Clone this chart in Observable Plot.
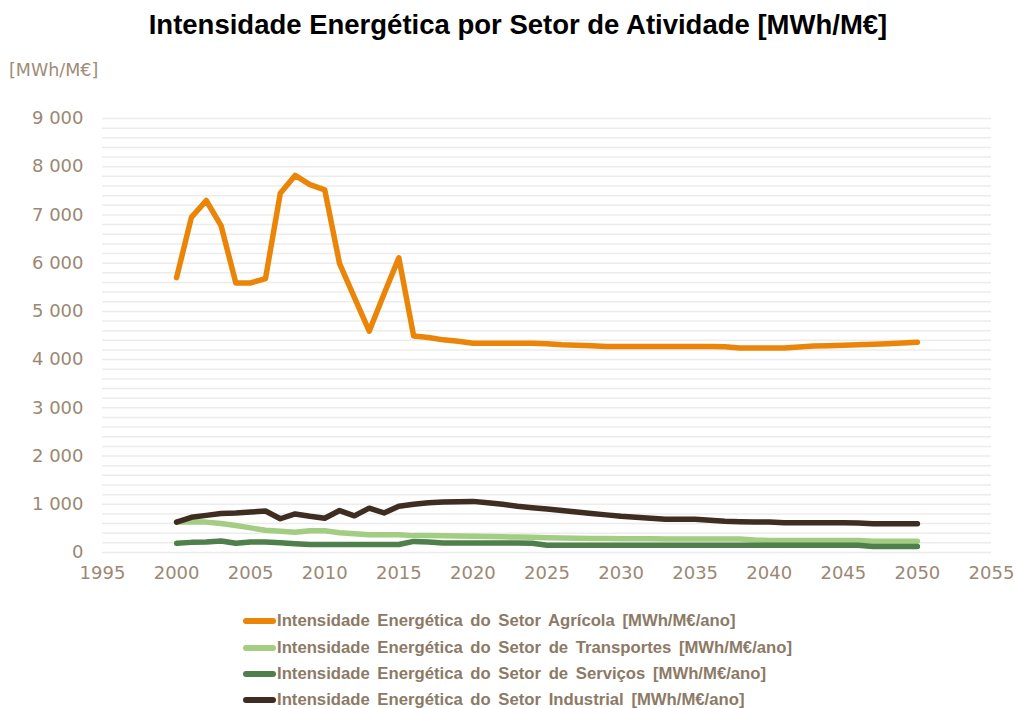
<!DOCTYPE html>
<html><head><meta charset="utf-8">
<script src="https://cdn.jsdelivr.net/npm/d3@7"></script>
<script src="https://cdn.jsdelivr.net/npm/@observablehq/plot@0.6"></script>
<style>
body{margin:0;background:#fff;width:1016px;height:708px;position:relative;overflow:hidden}
#title{position:absolute;left:0;width:1036px;top:10px;text-align:center;font:bold 27.5px "Liberation Sans",Arial,sans-serif;color:#000;line-height:30px}
#unit{position:absolute;left:9px;top:59px;font:17.5px "DejaVu Sans";color:#a08c78;line-height:22px}
#chart{position:absolute;left:0;top:50px}
#legend{position:absolute;left:243px;top:608px}
.row{height:26.4px;display:flex;align-items:center;font:bold 16.7px "Liberation Sans",Arial,sans-serif;color:#8c7a66;word-spacing:3px;white-space:nowrap}
.sw{width:33px;height:6px;border-radius:3px;margin-right:1px}
</style></head>
<body>
<div id="title">Intensidade Energética por Setor de Atividade [MWh/M€]</div>
<div id="unit">[MWh/M€]</div>
<div id="chart"></div>
<div id="legend"></div>
<script>
const years = d3.range(2000, 2051);
const seriesNames = [
  "Intensidade Energética do Setor Agrícola [MWh/M€/ano]",
  "Intensidade Energética do Setor de Transportes [MWh/M€/ano]",
  "Intensidade Energética do Setor de Serviços [MWh/M€/ano]",
  "Intensidade Energética do Setor Industrial [MWh/M€/ano]"
];
const seriesColors = ["#eb8508", "#a2cd83", "#4f7f4a", "#3f2d22"];
const agricola = [5700,6950,7300,6780,5590,5590,5680,7450,7820,7630,7520,5990,5290,4590,5360,6110,4490,4460,4410,4380,4340,4340,4340,4340,4340,4330,4310,4300,4285,4270,4270,4270,4270,4270,4270,4270,4270,4265,4240,4240,4240,4240,4260,4280,4290,4300,4310,4320,4330,4345,4360];
const transportes = [630,630,630,600,560,510,460,440,420,450,450,410,390,370,370,370,350,350,345,340,335,330,325,320,315,305,300,295,290,290,285,285,285,280,280,280,280,280,280,260,250,250,250,250,250,250,250,235,235,235,235];
const servicos = [190,210,220,240,190,220,220,200,180,165,165,165,165,165,165,165,230,220,195,195,195,195,195,195,190,150,150,150,150,150,150,150,150,150,150,150,150,150,150,150,150,150,150,150,150,150,150,125,125,125,125];
const industrial = [630,730,770,810,820,840,860,700,800,750,710,870,760,920,820,960,1000,1030,1045,1050,1060,1030,1000,960,930,900,870,840,810,780,750,730,710,690,690,690,670,650,640,630,630,615,615,615,615,615,610,595,595,595,595];
const yTicks = [0,1000,2000,3000,4000,5000,6000,7000,8000,9000];
const xTicks = [1995,2000,2005,2010,2015,2020,2025,2030,2035,2040,2045,2050,2055];
const gridStep = 200;

const allSeries = [agricola, transportes, servicos, industrial];
const fmt = d3.formatLocale({thousands:" ", grouping:[3], decimal:","}).format(",");
const gridVals = d3.range(0, 9000 + 1, gridStep);

const lineMarks = allSeries.map((vals, k) =>
  Plot.line(years.map((y, i) => ({year: y, value: vals[i]})), {
    x: "year", y: "value", stroke: seriesColors[k], strokeWidth: 5.5,
    strokeLinecap: "round", strokeLinejoin: "round"
  })
);

const chart = Plot.plot({
  width: 1016, height: 542,
  marginLeft: 102, marginRight: 25, marginTop: 68, marginBottom: 40,
  style: {fontFamily: "DejaVu Sans", fontSize: "18px", color: "#9c8874", background: "transparent"},
  x: {domain: [1995, 2055], ticks: xTicks, tickFormat: d => String(d), tickSize: 0, tickPadding: 14, label: null},
  y: {domain: [0, 9000], ticks: yTicks, tickFormat: fmt, tickSize: 0, tickPadding: 19, label: null},
  marks: [
    Plot.ruleY(gridVals, {stroke: "#ececec", strokeWidth: 1.5}),
    ...lineMarks
  ]
});
document.getElementById("chart").appendChild(chart);

const legend = document.getElementById("legend");
seriesNames.forEach((n, k) => {
  const row = document.createElement("div");
  row.className = "row";
  const sw = document.createElement("span");
  sw.className = "sw";
  sw.style.background = seriesColors[k];
  row.appendChild(sw);
  const t = document.createElement("span");
  t.textContent = n;
  row.appendChild(t);
  legend.appendChild(row);
});
</script>
</body></html>
